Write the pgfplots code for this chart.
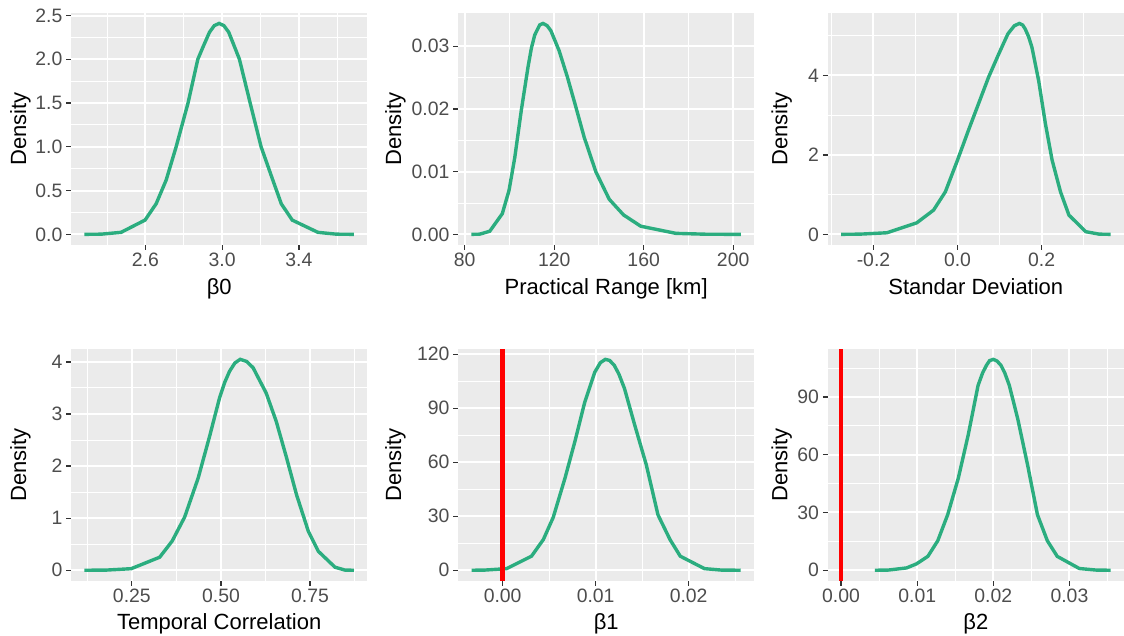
\documentclass[border=0pt]{standalone}
\usepackage{fontspec}
\setmainfont{Liberation Sans}
\usepackage{pgfplots}
\pgfplotsset{compat=1.18}
\definecolor{panelbg}{HTML}{EBEBEB}
\definecolor{labc}{HTML}{4D4D4D}
\definecolor{tickc}{HTML}{333333}
\definecolor{dens}{RGB}{43,173,127}

\pgfplotsset{
  gg/.style={
    scale only axis, width=148.2pt, height=116pt, anchor=south west,
    axis background/.style={fill=panelbg},
    axis line style={draw=none},
    grid=both,
    major grid style={white, line width=1pt},
    minor grid style={white, line width=0.5pt},
    tick align=outside, major tick length=2.4pt, minor tick length=0pt,
    tick style={tickc, line width=0.6pt},
    tick pos=left,
    scaled x ticks=false, scaled y ticks=false,
    xticklabel style={font=\fontsize{9.7}{10}\selectfont, text=labc, anchor=base, inner sep=0pt, yshift=-8.4pt},
    yticklabel style={font=\fontsize{9.7}{10}\selectfont, text=labc, anchor=east, inner sep=0pt, xshift=-1.7pt},
    every axis x label/.style={at={(axis description cs:0.5,0)}, anchor=base, yshift=-24.6pt, inner sep=0pt, font=\fontsize{11}{12}\selectfont},
    every axis y label/.style={at={(axis description cs:0,0.5)}, xshift=-#1, rotate=90, anchor=center, inner sep=0pt, font=\fontsize{11}{12}\selectfont},
    ylabel=Density,
  },
  dline/.style={dens, line width=1.7pt},
  vline/.style={red, line width=2.3pt},
}

\begin{document}
\begin{tikzpicture}
\useasboundingbox (0,0) rectangle (562pt,318pt);

% beta0
\begin{axis}[gg=25.25pt, at={(35.5pt,195.55pt)},
  xmin=2.212, xmax=3.757, ymin=-0.1205, ymax=2.5305,
  xtick={2.6,3.0,3.4}, xticklabels={2.6,3.0,3.4},
  minor xtick={2.4,2.8,3.2,3.6},
  ytick={0,0.5,1,1.5,2,2.5}, yticklabels={0.0,0.5,1.0,1.5,2.0,2.5},
  minor ytick={0.25,0.75,1.25,1.75,2.25},
  xlabel={β0}]
\addplot[dline] coordinates {
(2.282,0) (2.369,0.002) (2.473,0.023) (2.598,0.163) (2.656,0.35) (2.708,0.62)
(2.760,1.00) (2.822,1.50) (2.873,2.00) (2.900,2.14) (2.934,2.31) (2.959,2.385)
(2.984,2.41) (3.009,2.385) (3.034,2.31) (3.065,2.14) (3.090,2.00) (3.146,1.50)
(3.203,1.00) (3.264,0.62) (3.308,0.35) (3.365,0.163) (3.499,0.023) (3.595,0.002)
(3.687,0)};
\end{axis}

% practical range
\begin{axis}[gg=31.25pt, at={(229pt,195.55pt)},
  xmin=77, xmax=209.5, ymin=-0.00168, ymax=0.03533,
  xtick={80,120,160,200}, xticklabels={80,120,160,200},
  minor xtick={100,140,180},
  ytick={0,0.01,0.02,0.03}, yticklabels={0.00,0.01,0.02,0.03},
  minor ytick={0.005,0.015,0.025},
  xlabel={Practical Range [km]}]
\addplot[dline] coordinates {
(83.0,0) (86.7,0.00003) (91.2,0.0005) (96.8,0.0033) (99.8,0.0070) (102.4,0.0123)
(105.3,0.0198) (108.3,0.0267) (109.8,0.0297) (111.3,0.0318) (113.5,0.0334)
(115.0,0.03365) (116.8,0.0333) (118.5,0.0325) (122.2,0.0293) (125.9,0.0251)
(129.7,0.0203) (133.4,0.0155) (138.6,0.0100) (144.6,0.0056) (151.0,0.0031)
(158.7,0.0013) (174.4,0.00016) (188.0,0.00002) (203.5,0)};
\end{axis}

% standard deviation
\begin{axis}[gg=23pt, at={(413.8pt,195.55pt)},
  xmin=-0.3091, xmax=0.3961, ymin=-0.2655, ymax=5.5755,
  xtick={-0.2,0,0.2}, xticklabels={-0.2,0.0,0.2},
  minor xtick={-0.3,-0.1,0.1,0.3},
  ytick={0,2,4}, yticklabels={0,2,4},
  minor ytick={1,3,5},
  xlabel={Standar Deviation}]
\addplot[dline] coordinates {
(-0.277,0) (-0.232,0.005) (-0.168,0.04) (-0.097,0.29) (-0.057,0.61) (-0.029,1.07)
(0.000,1.87) (0.026,2.62) (0.050,3.29) (0.074,3.96) (0.098,4.54) (0.110,4.82)
(0.120,5.05) (0.135,5.25) (0.147,5.31) (0.155,5.27) (0.161,5.17) (0.169,4.98)
(0.177,4.71) (0.193,3.87) (0.209,2.79) (0.225,1.87) (0.245,1.07) (0.265,0.485)
(0.305,0.067) (0.337,0.005) (0.364,0)};
\end{axis}

% temporal correlation
\begin{axis}[gg=25.25pt, at={(35.5pt,27.6pt)},
  xmin=0.0792, xmax=0.9108, ymin=-0.2025, ymax=4.2525,
  xtick={0.25,0.5,0.75}, xticklabels={0.25,0.50,0.75},
  minor xtick={0.125,0.375,0.625,0.875},
  ytick={0,1,2,3,4}, yticklabels={0,1,2,3,4},
  minor ytick={0.5,1.5,2.5,3.5},
  xlabel={Temporal Correlation}]
\addplot[dline] coordinates {
(0.117,0) (0.178,0.003) (0.248,0.03) (0.328,0.25) (0.363,0.56) (0.398,1.02)
(0.436,1.77) (0.468,2.57) (0.496,3.31) (0.510,3.60) (0.524,3.82) (0.539,3.98)
(0.554,4.05) (0.572,4.01) (0.590,3.89) (0.627,3.40) (0.655,2.86) (0.684,2.16)
(0.712,1.45) (0.745,0.75) (0.773,0.365) (0.820,0.058) (0.848,0.003) (0.873,0)};
\end{axis}

% beta1
\begin{axis}[gg=31.25pt, at={(229pt,27.6pt)},
  xmin=-0.0048, xmax=0.02707, ymin=-5.86, ymax=123.06,
  xtick={0,0.01,0.02}, xticklabels={0.00,0.01,0.02},
  minor xtick={0.005,0.015,0.025},
  ytick={0,30,60,90,120}, yticklabels={0,30,60,90,120},
  minor ytick={15,45,75,105},
  xlabel={β1}]
\addplot[dline] coordinates {
(-0.00333,0) (-0.0019,0.1) (0.00043,0.9) (0.0031,7.8) (0.00437,17) (0.00544,29.4)
(0.0067,51.1) (0.00776,71.4) (0.00884,93.6) (0.0099,110) (0.0105,115.3)
(0.01104,117.2) (0.0115,116.6) (0.0120,113.9) (0.0125,109) (0.0131,101)
(0.0142,80.7) (0.01545,58.5) (0.0167,30.8) (0.0180,17) (0.0191,7.8)
(0.0217,0.9) (0.0235,0.1) (0.0256,0)};
\addplot[vline] coordinates {(0,-5.86) (0,123.06)};
\end{axis}

% beta2
\begin{axis}[gg=22.9pt, at={(413.8pt,27.6pt)},
  xmin=-0.00177, xmax=0.03717, ymin=-5.475, ymax=114.975,
  xtick={0,0.01,0.02,0.03}, xticklabels={0.00,0.01,0.02,0.03},
  minor xtick={0.005,0.015,0.025,0.035},
  ytick={0,30,60,90}, yticklabels={0,30,60,90},
  minor ytick={15,45,75,105},
  xlabel={β2}]
\addplot[dline] coordinates {
(0.00445,0) (0.0062,0.1) (0.0086,1.2) (0.0099,3.3) (0.0114,7.2) (0.0127,15.3)
(0.0140,28.8) (0.0154,47.8) (0.0167,70.2) (0.0180,96) (0.0186,102.5) (0.0191,106.4)
(0.0195,108.8) (0.0200,109.5) (0.0205,108.6) (0.0210,106.4) (0.0215,102.5)
(0.0221,96) (0.0232,78.8) (0.0245,54.7) (0.0258,28.8) (0.0271,15.3) (0.0284,7.2)
(0.0313,0.9) (0.0335,0.1) (0.0354,0)};
\addplot[vline] coordinates {(0,-5.475) (0,114.975)};
\end{axis}
\end{tikzpicture}
\end{document}
